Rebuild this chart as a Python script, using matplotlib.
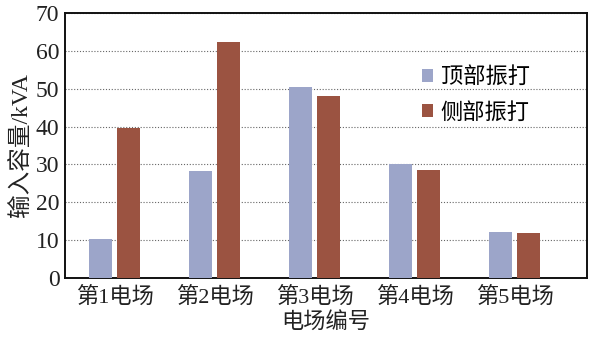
import matplotlib
matplotlib.use("Agg")
import matplotlib.pyplot as plt
import numpy as np

plt.rcParams['font.family'] = ['Liberation Serif', 'Noto Sans CJK SC']

categories = ["第1电场", "第2电场", "第3电场", "第4电场", "第5电场"]
top_rap = [10.3, 28.3, 50.4, 30.1, 12.1]
side_rap = [39.6, 62.3, 48.1, 28.5, 12.0]
series_names = ["顶部振打", "侧部振打"]
yticks = [0, 10, 20, 30, 40, 50, 60, 70]

c_top = "#9ca5c9"
c_side = "#9b5341"

fig = plt.figure(figsize=(5.94, 3.39), dpi=100)
ax = fig.add_axes([0.1094, 0.180, 0.8788, 0.7817])

x = np.arange(len(categories))
w = 0.23
ax.bar(x - 0.14, top_rap, width=w, color=c_top, label=series_names[0], zorder=3)
ax.bar(x + 0.135, side_rap, width=w, color=c_side, label=series_names[1], zorder=3)

ax.set_xlim(-0.5, 4.72)
ax.set_ylim(0, 70)
ax.set_yticks(yticks)
ax.set_xticks(x)
ax.set_xticklabels(categories)
ax.tick_params(axis='x', length=0, labelsize=16, pad=6, colors='#222222')
ax.tick_params(axis='y', length=0, labelsize=17, pad=4, colors='#222222')

ax.yaxis.grid(True, linestyle=(0, (1.0, 1.6)), color='#666666', linewidth=0.8, zorder=1)
for sp in ax.spines.values():
    sp.set_linewidth(1.4)
    sp.set_color('#111111')

ax.set_ylabel("输入容量/kVA", fontsize=17, labelpad=2, color='#222222')
ax.set_xlabel("电场编号", fontsize=16, labelpad=3, color='#222222')

ax.legend(loc='upper left', bbox_to_anchor=(0.645, 0.87), frameon=False,
          fontsize=16, handlelength=0.5, handleheight=0.5,
          handletextpad=0.35, labelspacing=0.65)

fig.savefig("out.png", dpi=100)
